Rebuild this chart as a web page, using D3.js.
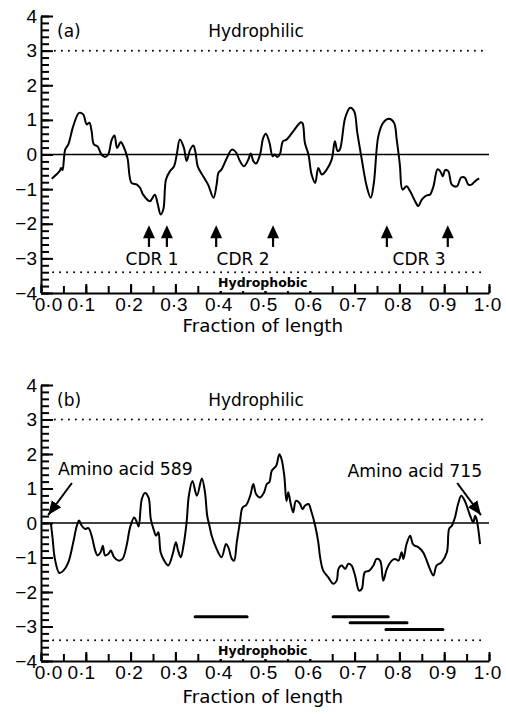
<!DOCTYPE html>
<html>
<head>
<meta charset="utf-8">
<script src="https://cdn.jsdelivr.net/npm/d3@7"></script>
<style>
  body { margin: 0; background: #fff; }
  svg { display: block; font-family: "DejaVu Sans", sans-serif; }
</style>
</head>
<body>
<div id="chart"></div>
<script>
// hydropathy profiles: [fraction of length, value]
const profileA = [
  [0.024,-0.70],[0.041,-0.49],[0.045,-0.39],[0.048,-0.45],[0.054,0.14],[0.061,0.29],
  [0.072,0.82],[0.085,1.20],[0.094,1.16],[0.102,0.87],[0.108,0.92],[0.113,0.67],
  [0.118,0.29],[0.126,0.24],[0.135,0.00],[0.143,-0.07],[0.150,0.00],[0.158,0.43],
  [0.164,0.55],[0.170,0.19],[0.178,0.36],[0.184,0.24],[0.193,-0.10],[0.202,-0.82],
  [0.214,-0.87],[0.221,-0.96],[0.228,-1.16],[0.243,-1.35],[0.254,-1.16],[0.260,-1.40],
  [0.267,-1.73],[0.273,-1.59],[0.279,-0.72],[0.288,-0.48],[0.297,-0.34],[0.303,0.00],
  [0.310,0.43],[0.319,0.19],[0.325,-0.19],[0.333,0.14],[0.340,0.26],[0.345,0.05],
  [0.350,-0.35],[0.362,-0.63],[0.373,-0.87],[0.385,-1.25],[0.392,-0.87],[0.396,-0.53],
  [0.403,-0.43],[0.415,-0.10],[0.426,0.14],[0.435,0.07],[0.444,-0.19],[0.453,-0.34],
  [0.463,-0.14],[0.468,0.03],[0.474,-0.19],[0.480,-0.26],[0.489,0.00],[0.496,0.48],
  [0.502,0.60],[0.510,0.34],[0.517,-0.05],[0.522,0.00],[0.527,-0.07],[0.533,0.00],
  [0.540,0.38],[0.548,0.43],[0.563,0.67],[0.580,0.93],[0.584,0.90],[0.589,0.34],
  [0.597,0.00],[0.604,-0.58],[0.612,-0.82],[0.619,-0.39],[0.627,-0.58],[0.638,-0.43],
  [0.649,-0.14],[0.656,0.38],[0.662,0.10],[0.667,0.14],[0.679,1.06],[0.690,1.35],
  [0.699,1.25],[0.706,0.63],[0.716,-0.14],[0.727,-0.92],[0.736,-1.25],[0.743,-0.82],
  [0.753,0.53],[0.764,0.92],[0.777,1.03],[0.788,0.92],[0.794,0.43],[0.801,-0.29],
  [0.807,-1.01],[0.816,-0.92],[0.824,-1.06],[0.835,-1.35],[0.842,-1.49],[0.850,-1.30],
  [0.861,-1.18],[0.868,-1.16],[0.876,-0.92],[0.885,-0.43],[0.891,-0.48],[0.897,-0.63],
  [0.902,-0.45],[0.909,-0.48],[0.917,-0.87],[0.928,-0.92],[0.938,-0.66],[0.946,-0.67],
  [0.954,-0.87],[0.961,-0.87],[0.969,-0.77],[0.978,-0.69]
];

const profileB = [
  [0.022,0.00],[0.026,-0.46],[0.031,-1.04],[0.041,-1.45],[0.050,-1.38],[0.061,-1.14],
  [0.072,-0.56],[0.080,-0.08],[0.085,0.07],[0.091,-0.08],[0.098,-0.17],[0.106,-0.15],
  [0.113,-0.37],[0.121,-0.80],[0.126,-0.94],[0.133,-0.85],[0.138,-0.66],[0.143,-0.94],
  [0.150,-0.90],[0.156,-0.80],[0.163,-0.99],[0.173,-1.09],[0.182,-1.04],[0.191,-0.66],
  [0.199,-0.12],[0.208,0.16],[0.214,0.02],[0.218,-0.10],[0.225,0.69],[0.232,0.87],
  [0.240,0.74],[0.245,0.12],[0.251,-0.17],[0.257,-0.37],[0.262,-0.27],[0.267,-0.85],
  [0.275,-1.09],[0.284,-1.23],[0.294,-0.90],[0.301,-0.56],[0.306,-0.80],[0.312,-0.99],
  [0.318,-0.66],[0.325,0.02],[0.330,0.79],[0.338,1.22],[0.348,0.79],[0.359,1.29],
  [0.366,0.89],[0.371,0.21],[0.376,-0.08],[0.381,-0.37],[0.392,-0.75],[0.403,-0.99],
  [0.413,-0.61],[0.418,-0.70],[0.426,-1.04],[0.431,-1.09],[0.437,-0.56],[0.444,0.02],
  [0.450,0.45],[0.458,0.52],[0.467,0.79],[0.474,1.13],[0.480,0.84],[0.489,0.74],
  [0.498,0.89],[0.504,1.13],[0.510,1.19],[0.515,1.51],[0.525,1.66],[0.532,1.99],
  [0.537,1.85],[0.543,1.37],[0.548,0.64],[0.552,0.89],[0.557,0.58],[0.563,0.31],
  [0.569,0.64],[0.577,0.58],[0.584,0.40],[0.589,0.50],[0.597,0.55],[0.604,0.31],
  [0.612,-0.08],[0.619,-0.56],[0.623,-0.99],[0.630,-1.38],[0.641,-1.57],[0.652,-1.76],
  [0.660,-1.67],[0.664,-1.33],[0.671,-1.23],[0.679,-1.33],[0.686,-1.18],[0.693,-1.23],
  [0.701,-1.52],[0.710,-1.96],[0.716,-1.91],[0.723,-1.42],[0.733,-1.38],[0.742,-1.23],
  [0.749,-1.04],[0.757,-1.09],[0.764,-1.67],[0.772,-1.33],[0.783,-1.09],[0.790,-1.04],
  [0.798,-1.09],[0.805,-0.85],[0.809,-1.04],[0.816,-0.61],[0.824,-0.37],[0.830,-0.61],
  [0.835,-0.66],[0.842,-0.70],[0.853,-0.85],[0.861,-1.09],[0.868,-1.33],[0.876,-1.52],
  [0.883,-1.23],[0.894,-1.14],[0.906,-0.85],[0.911,-0.17],[0.917,-0.08],[0.924,0.16],
  [0.931,0.55],[0.938,0.79],[0.946,0.64],[0.958,0.21],[0.965,0.02],[0.969,0.21],
  [0.972,0.12],[0.976,-0.17],[0.980,-0.61]
];

const xTickValues = [0, 0.1, 0.2, 0.3, 0.4, 0.5, 0.6, 0.7, 0.8, 0.9, 1.0];
const xTickLabels = ["0·0", "0·1", "0·2", "0·3", "0·4", "0·5", "0·6", "0·7", "0·8", "0·9", "1·0"];
const yTickValues = [-4, -3, -2, -1, 0, 1, 2, 3, 4];
const yTickLabels = ["−4", "−3", "−2", "−1", "0", "1", "2", "3", "4"];

const hydrophilicLevel = 3.0;
const hydrophobicLevel = -3.4;

// panel (a): CDR arrows
const cdrArrowX = [0.241, 0.281, 0.391, 0.518, 0.772, 0.908];
const cdrNames = ["CDR 1", "CDR 2", "CDR 3"];
const cdrNameX = [0.248, 0.451, 0.844];

// panel (b): peptide bars
const peptideStart = [0.344, 0.652, 0.690, 0.770];
const peptideEnd = [0.460, 0.775, 0.817, 0.897];
const peptideLevel = [-2.72, -2.72, -2.89, -3.09];

// panel (b): end annotations
const endLabels = ["Amino acid 589", "Amino acid 715"];
const endArrowTip = [[0.016, 0.23], [0.982, 0.23]];
const endArrowTail = [[0.069, 1.16], [0.929, 1.16]];

const width = 506, height = 714;

const svg = d3.select("#chart").append("svg")
  .attr("width", width)
  .attr("height", height);

svg.append("defs").append("marker")
  .attr("id", "head")
  .attr("markerUnits", "userSpaceOnUse")
  .attr("viewBox", "0 0 12 10")
  .attr("refX", 12).attr("refY", 5)
  .attr("markerWidth", 14).attr("markerHeight", 12)
  .attr("orient", "auto")
  .append("path").attr("d", "M0,0 L12,5 L0,10 Z").attr("fill", "#000");

const x = d3.scaleLinear().domain([0, 1]).range([41, 489]);

function drawPanel(g, y, tag, profile, labelY) {
  const top = y(4), bottom = y(-4);

  // minor y ticks
  g.append("g")
    .attr("transform", `translate(${x(0)},0)`)
    .call(d3.axisLeft(y).ticks(40).tickSizeInner(-8).tickSizeOuter(0).tickFormat(""))
    .call(s => s.select(".domain").remove());

  // major y ticks + labels
  g.append("g")
    .attr("transform", `translate(${x(0)},0)`)
    .call(d3.axisLeft(y).tickValues(yTickValues).tickSizeInner(-12).tickSizeOuter(0)
      .tickPadding(4).tickFormat((d, i) => yTickLabels[i]))
    .call(s => s.selectAll("text").style("font-size", "19px"));

  // minor x ticks
  g.append("g")
    .attr("transform", `translate(0,${bottom})`)
    .call(d3.axisBottom(x).ticks(20).tickSizeInner(-7).tickSizeOuter(0).tickFormat(""))
    .call(s => s.select(".domain").remove());

  // major x ticks + labels
  g.append("g")
    .attr("transform", `translate(0,${bottom})`)
    .call(d3.axisBottom(x).tickValues(xTickValues).tickSizeInner(-9).tickSizeOuter(0)
      .tickPadding(5).tickFormat((d, i) => xTickLabels[i]))
    .call(s => s.selectAll("text")
      .style("font-size", "19px")
      .attr("dx", (d, i) => i === 0 ? 7 : i === 1 ? -5 : -2));

  g.selectAll(".domain, .tick line").attr("stroke", "#000").attr("stroke-width", 2);
  g.selectAll(".tick text").attr("fill", "#000");

  // threshold lines
  g.append("line")
    .attr("x1", x(0.031)).attr("x2", x(0.987))
    .attr("y1", y(hydrophilicLevel)).attr("y2", y(hydrophilicLevel))
    .attr("stroke", "#000").attr("stroke-width", 2)
    .attr("stroke-linecap", "round").attr("stroke-dasharray", "0,7");

  g.append("line")
    .attr("x1", x(0.027)).attr("x2", x(0.985))
    .attr("y1", y(hydrophobicLevel)).attr("y2", y(hydrophobicLevel))
    .attr("stroke", "#000").attr("stroke-width", 2)
    .attr("stroke-linecap", "round").attr("stroke-dasharray", "0,7");

  // zero line
  g.append("line")
    .attr("x1", x(0)).attr("x2", x(1))
    .attr("y1", y(0)).attr("y2", y(0))
    .attr("stroke", "#000").attr("stroke-width", 1.6);

  // profile
  g.append("path")
    .datum(profile)
    .attr("fill", "none")
    .attr("stroke", "#000")
    .attr("stroke-width", 2)
    .attr("stroke-linejoin", "round")
    .attr("d", d3.line()
      .x(d => x(d[0]))
      .y(d => y(d[1]))
      .curve(d3.curveCatmullRom.alpha(0.5)));

  // texts
  g.append("text")
    .attr("x", x(0) + 16).attr("y", top + 21)
    .style("font-size", "17px")
    .text(tag);

  g.append("text")
    .attr("x", x(0.48)).attr("y", top + 21)
    .attr("text-anchor", "middle")
    .style("font-size", "17px")
    .text("Hydrophilic");

  const phob = g.append("text")
    .attr("x", x(0.495)).attr("y", bottom - 6)
    .attr("text-anchor", "middle")
    .style("font-size", "12.5px")
    .style("font-weight", "bold")
    .text("Hydrophobic");
  const bb = phob.node().getBBox();
  g.append("rect")
    .attr("x", bb.x - 6).attr("y", bb.y - 1)
    .attr("width", bb.width + 12).attr("height", bottom - bb.y - 1)
    .attr("fill", "#fff");
  phob.raise();

  g.append("text")
    .attr("x", x(0.495)).attr("y", labelY)
    .attr("text-anchor", "middle")
    .style("font-size", "18.3px")
    .text("Fraction of length");
}

// panel (a)
const yA = d3.scaleLinear().domain([-4, 4]).range([293, 16]);
const gA = svg.append("g");
drawPanel(gA, yA, "(a)", profileA, 332);

cdrArrowX.forEach(f => {
  const cx = x(f), tip = yA(-2.04), base = tip + 13;
  gA.append("path")
    .attr("d", `M${cx},${tip} L${cx + 6},${base} L${cx - 6},${base} Z`)
    .attr("fill", "#000");
  gA.append("line")
    .attr("x1", cx).attr("x2", cx)
    .attr("y1", base - 1).attr("y2", yA(-2.67))
    .attr("stroke", "#000").attr("stroke-width", 2.2);
});

gA.selectAll("text.cdr")
  .data(cdrNames)
  .join("text")
  .attr("class", "cdr")
  .attr("x", (d, i) => x(cdrNameX[i]))
  .attr("y", yA(-3.19))
  .attr("text-anchor", "middle")
  .style("font-size", "17px")
  .text(d => d);

// panel (b)
const yB = d3.scaleLinear().domain([-4, 4]).range([661, 385]);
const gB = svg.append("g");
drawPanel(gB, yB, "(b)", profileB, 703);

gB.selectAll("line.pep")
  .data(peptideStart)
  .join("line")
  .attr("class", "pep")
  .attr("x1", d => x(d))
  .attr("x2", (d, i) => x(peptideEnd[i]))
  .attr("y1", (d, i) => yB(peptideLevel[i]))
  .attr("y2", (d, i) => yB(peptideLevel[i]))
  .attr("stroke", "#000")
  .attr("stroke-width", 3)
  .attr("stroke-linecap", "round");

endLabels.forEach((label, i) => {
  gB.append("line")
    .attr("x1", x(endArrowTail[i][0])).attr("y1", yB(endArrowTail[i][1]))
    .attr("x2", x(endArrowTip[i][0])).attr("y2", yB(endArrowTip[i][1]))
    .attr("stroke", "#000").attr("stroke-width", 2)
    .attr("marker-end", "url(#head)");
});

gB.append("text")
  .attr("x", x(0.038)).attr("y", yB(1.39))
  .style("font-size", "17.3px")
  .text(endLabels[0]);

gB.append("text")
  .attr("x", x(0.985)).attr("y", yB(1.33))
  .attr("text-anchor", "end")
  .style("font-size", "17.3px")
  .text(endLabels[1]);
</script>
</body>
</html>
